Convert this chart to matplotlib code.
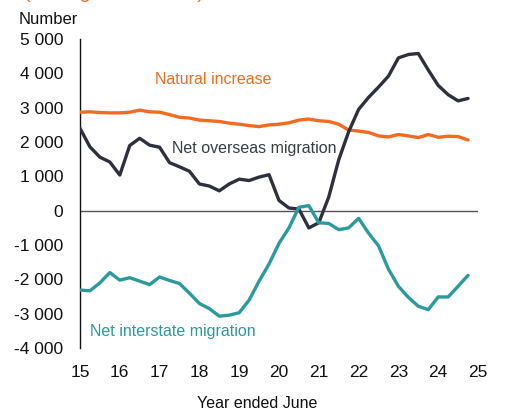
import matplotlib
matplotlib.use("Agg")
import matplotlib.pyplot as plt

plt.rcParams['font.family'] = ['Liberation Sans', 'DejaVu Sans']

# quarterly, year ended June (15 = 2015)
years = [15 + 0.25 * i for i in range(40)]

natural_increase = [2870, 2880, 2860, 2850, 2850, 2870, 2930, 2880,
                    2870, 2800, 2720, 2700, 2640, 2620, 2600, 2550,
                    2520, 2480, 2450, 2500, 2520, 2560, 2640, 2670,
                    2620, 2600, 2520, 2350, 2320, 2280, 2180, 2150,
                    2220, 2180, 2130, 2220, 2140, 2170, 2160, 2060]

net_overseas = [2400, 1860, 1560, 1420, 1040, 1900, 2110, 1910,
                1850, 1400, 1280, 1150, 780, 720, 580, 780,
                920, 880, 980, 1050, 300, 80, 50, -500,
                -350, 400, 1480, 2300, 2950, 3300, 3600, 3920,
                4450, 4550, 4580, 4100, 3650, 3380, 3200, 3270]

net_interstate = [-2310, -2330, -2100, -1800, -2020, -1950, -2050, -2150,
                  -1930, -2030, -2120, -2400, -2700, -2850, -3070, -3040,
                  -2970, -2600, -2050, -1550, -950, -500, 100, 150,
                  -350, -370, -550, -500, -220, -650, -1020, -1700,
                  -2200, -2520, -2780, -2880, -2510, -2510, -2200, -1880]

y_ticks = [5000, 4000, 3000, 2000, 1000, 0, -1000, -2000, -3000, -4000]
y_labels = ['5 000', '4 000', '3 000', '2 000', '1 000', '0',
            '-1 000', '-2 000', '-3 000', '-4 000']
x_ticks = list(range(15, 26))

orange = '#F26B21'
navy = '#2E303D'
teal = '#2A9A9C'

fig = plt.figure(figsize=(5.05, 4.11), dpi=100)
ax = fig.add_axes([0.1584, 0.153, 0.7881, 0.752])

ax.axhline(0, color='#555555', lw=1.0, zorder=1)
for vals, col in [(natural_increase, orange), (net_overseas, navy),
                  (net_interstate, teal)]:
    ax.plot(years, vals, color=col, lw=2.4, zorder=3,
            solid_joinstyle='round', solid_capstyle='round')

ax.set_xlim(15, 25)
ax.set_ylim(-4000, 5000)
ax.set_yticks(y_ticks)
ax.set_yticklabels(y_labels)
ax.set_xticks(x_ticks)
ax.set_xticklabels([str(t) for t in x_ticks])
ax.tick_params(axis='both', length=0, labelsize=12.5, colors='#111111')
ax.tick_params(axis='y', pad=12)
ax.tick_params(axis='x', pad=12)

for s in ['top', 'right', 'bottom']:
    ax.spines[s].set_visible(False)
ax.spines['left'].set_color('#111111')
ax.spines['left'].set_linewidth(1.0)

ax.text(16.88, 3810, 'Natural increase', color=orange, fontsize=11.5, va='center')
ax.text(17.31, 1800, 'Net overseas migration', color='#3a3c48', fontsize=11.5, va='center')
ax.text(15.25, -3530, 'Net interstate migration', color=teal, fontsize=11.5, va='center')

fig.text(19 / 505, 1 - 20 / 411, 'Number', fontsize=12, color='#111111',
         ha='left', va='center')
fig.text(257 / 505, 1 - 403 / 411, 'Year ended June', fontsize=11.5, color='#111111',
         ha='center', va='center')
# title sits mostly above the visible area, only its descenders show
fig.text(24 / 505, 1 + 2 / 411, '(Rolling annual total)', fontsize=14,
         color=orange, ha='left', va='baseline')

fig.savefig('out.png', dpi=100)
